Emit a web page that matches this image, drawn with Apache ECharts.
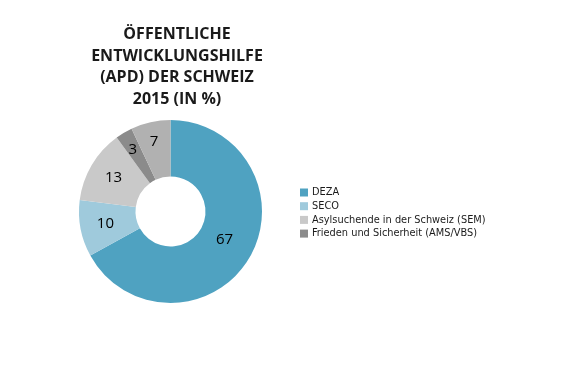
<!DOCTYPE html>
<html><head><meta charset="utf-8">
<script src="https://cdn.jsdelivr.net/npm/echarts@6/dist/echarts.min.js"></script>
<style>html,body{margin:0;padding:0;background:#fff}#c{width:588px;height:368px}</style>
</head><body><div id="c"></div>
<script>
const categories = ["DEZA", "SECO", "Asylsuchende in der Schweiz (SEM)", "Frieden und Sicherheit (AMS/VBS)", "Übrige"];
const values = [67, 10, 13, 3, 7];
const colors = ["#4fa2c1", "#9fcadc", "#c9c9c9", "#8b8b8b", "#b1b1b1"];
const legendItems = ["DEZA", "SECO", "Asylsuchende in der Schweiz (SEM)", "Frieden und Sicherheit (AMS/VBS)"];
const titleText = "ÖFFENTLICHE\nENTWICKLUNGSHILFE\n(APD) DER SCHWEIZ\n2015 (IN %)";
const labelOffsets = [[-3, -5], [0, 0], [0, 0], [-4, -5], [-2, -5]];

const chart = echarts.init(document.getElementById('c'));
chart.setOption({
  animation: false,
  title: {
    text: titleText,
    left: 172, top: 18.5, textAlign: 'center',
    textStyle: {fontFamily: 'Open Sans', fontSize: 16, fontWeight: 'bold', lineHeight: 21.7, color: '#1a1a1a'}
  },
  legend: {
    data: legendItems,
    orient: 'vertical', left: 295, top: 181.5,
    itemWidth: 8, itemHeight: 8, itemGap: 1.7,
    icon: 'rect',
    textStyle: {fontFamily: 'DejaVu Sans Condensed', fontSize: 10.9, lineHeight: 12, color: '#1a1a1a', padding: [0,0,0,-1]}
  },
  series: [{
    type: 'pie',
    center: [170.5, 211.5],
    radius: [35, 91.5],
    startAngle: 90,
    clockwise: true,
    silent: true,
    label: {show: true, position: 'inside', formatter: '{c}', color: '#000', fontFamily: 'Open Sans', fontSize: 15},
    labelLine: {show: false},
    data: categories.map((n, i) => ({name: n, value: values[i], itemStyle: {color: colors[i]}, label: {offset: labelOffsets[i]}}))
  }]
});
</script></body></html>
